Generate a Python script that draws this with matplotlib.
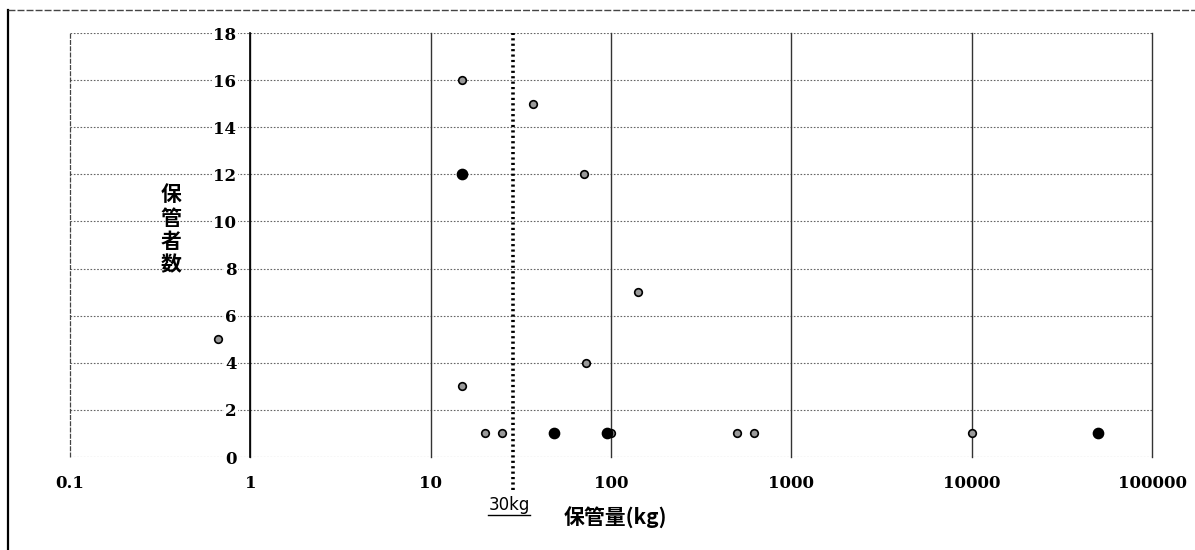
import numpy as np
import matplotlib
matplotlib.use("Agg")
import matplotlib.pyplot as plt
from matplotlib.lines import Line2D

plt.rcParams['font.family'] = ['Noto Sans CJK JP', 'DejaVu Sans']

# amount stored (kg) and number of holders
gray_x = [0.66, 15, 15, 20, 25, 37, 71, 73, 100, 141, 500, 620, 10000]
gray_y = [5, 16, 3, 1, 1, 15, 12, 4, 1, 7, 1, 1, 1]
black_x = [15, 48, 95, 50000]
black_y = [12, 1, 1, 1]
threshold = 28.5
xticks = [0.1, 1, 10, 100, 1000, 10000, 100000]
xticklabels = ['0.1', '1', '10', '100', '1000', '10000', '100000']
yticks = list(range(0, 19, 2))


def main():
    fig = plt.figure(figsize=(11.95, 5.5), dpi=100)
    ax = fig.add_axes([0.0586, 0.169, 0.9055, 0.771])

    # outer frame: solid left edge, dashed top edge
    fig.lines.append(Line2D([0.007, 0.007], [0.0, 0.982], transform=fig.transFigure,
                            color='black', lw=1.6))
    fig.lines.append(Line2D([0.007, 1.0], [0.982, 0.982], transform=fig.transFigure,
                            color='#444444', lw=1.0, ls=(0, (5, 1.5))))

    ax.set_xscale('log')
    ax.set_xlim(0.1, 100000)
    ax.set_ylim(0, 18)
    ax.minorticks_off()

    # grid
    for y in yticks:
        ax.axhline(y, color='#666666', lw=0.8, ls=(0, (1.5, 1.5)), zorder=1)
    for x in xticks:
        if x == 0.1:
            ax.axvline(x, color='#444444', lw=0.9, ls=(0, (4, 1)), zorder=1, clip_on=False)
        else:
            ax.axvline(x, color='#333333', lw=1.0, zorder=1, clip_on=False)

    # 30kg threshold, running a little below the axis
    ax.plot([threshold, threshold], [-1.4, 18], color='black', lw=2.6,
            ls=(0, (0.6, 0.9)), zorder=2, clip_on=False)

    ax.scatter(gray_x, gray_y, s=30, c='#9a9a9a', edgecolors='black', linewidths=1.2, zorder=4)
    ax.scatter(black_x, black_y, s=55, c='black', edgecolors='black', zorder=5)

    for s in ['top', 'right', 'bottom']:
        ax.spines[s].set_visible(False)
    ax.spines['left'].set_position(('data', 1))
    ax.spines['left'].set_linewidth(1.2)
    ax.spines['left'].set_zorder(3)

    ax.set_yticks(yticks)
    ax.set_yticklabels([str(v) for v in yticks], fontfamily='DejaVu Serif',
                       fontweight='bold', fontsize=12)
    for lab in ax.get_yticklabels():
        lab.set_bbox(dict(facecolor='white', edgecolor='none', pad=1))
    ax.tick_params(axis='y', length=0, pad=10)

    ax.set_xticks(xticks)
    ax.set_xticklabels(xticklabels, fontfamily='DejaVu Serif', fontweight='bold', fontsize=12)
    ax.tick_params(axis='x', length=0, pad=13)

    fig.text(0.515, 0.058, '保管量(kg)', fontsize=15, fontweight='bold',
             ha='center', va='center')
    fig.text(0.143, 0.582, '保\n管\n者\n数', fontsize=15, fontweight='bold',
             ha='center', va='center', linespacing=1.15)

    t = fig.text(0.426, 0.082, '30kg', fontsize=12, ha='center', va='center',
                 fontfamily='DejaVu Sans')
    fig.canvas.draw()
    bb = t.get_window_extent().transformed(fig.transFigure.inverted())
    fig.lines.append(Line2D([bb.x0, bb.x1], [bb.y0 - 0.002, bb.y0 - 0.002],
                            transform=fig.transFigure, color='black', lw=1))

    fig.savefig('out.png', dpi=100)


if __name__ == "__main__":
    main()
